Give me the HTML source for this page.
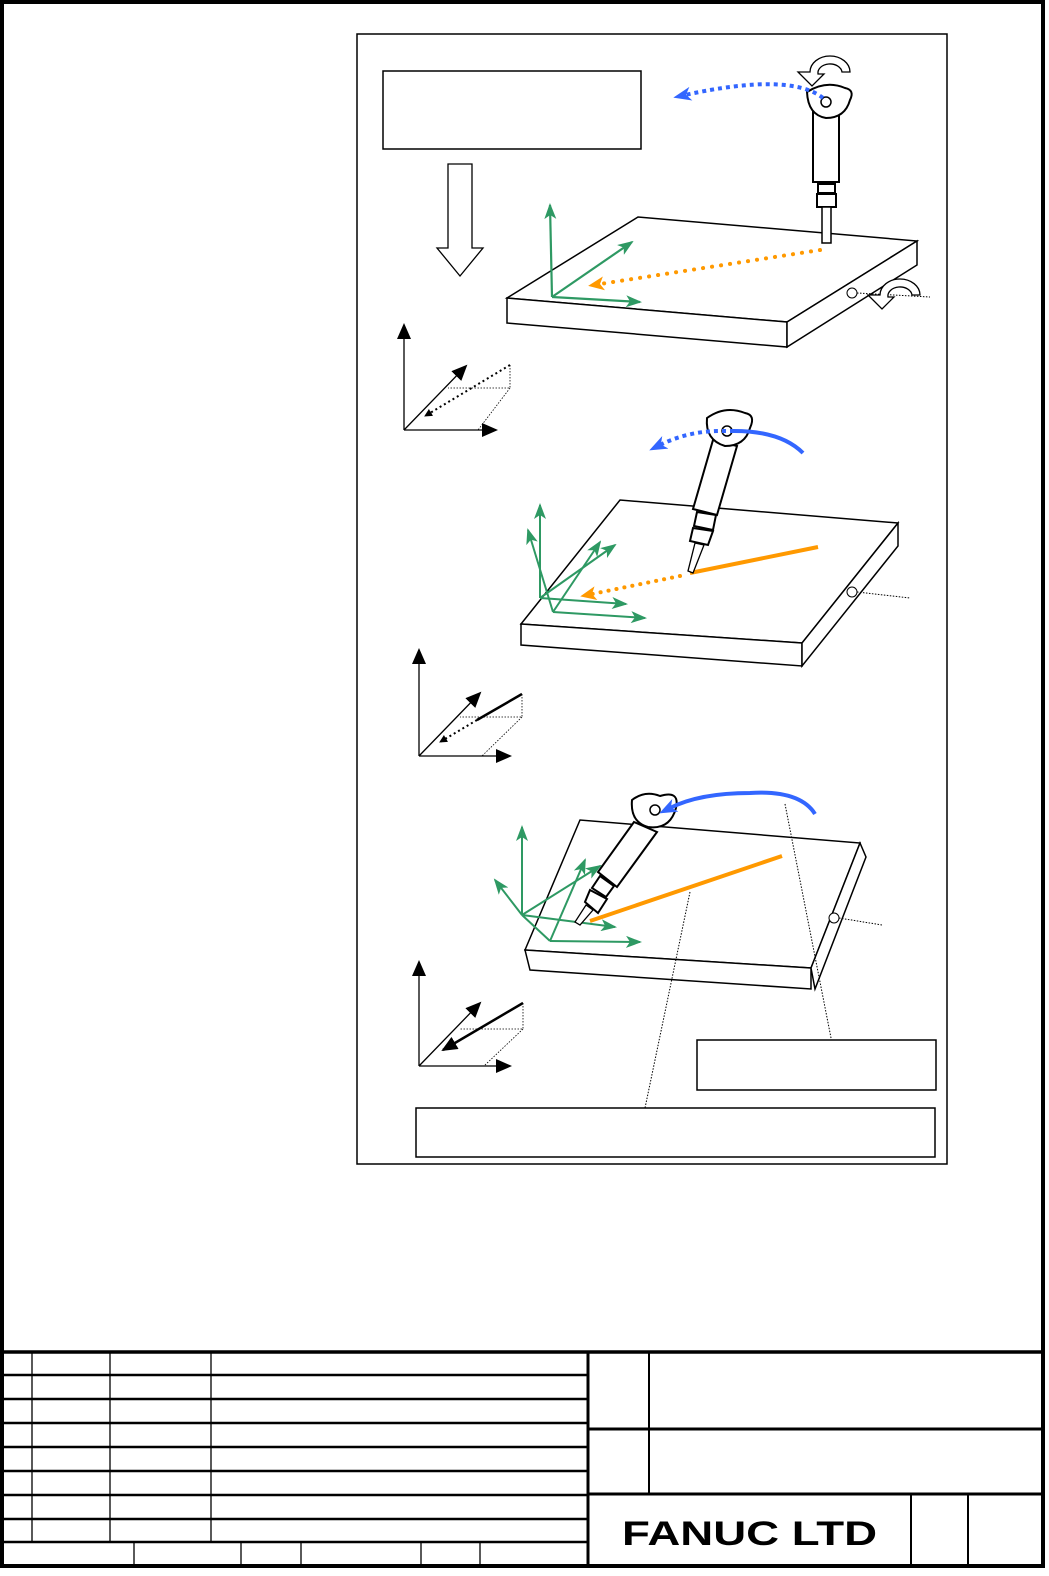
<!DOCTYPE html>
<html><head><meta charset="utf-8"><style>
html,body{margin:0;padding:0;background:#fff}
svg{display:block}
text{font-family:"Liberation Sans",Arial,sans-serif}
</style></head><body>
<svg width="1049" height="1576" viewBox="0 0 1049 1576" xmlns="http://www.w3.org/2000/svg">
<defs>
<marker id="ab" markerWidth="8" markerHeight="8" refX="7" refY="4" orient="auto" markerUnits="userSpaceOnUse"><path d="M0,0 L8,4 L0,8 z" fill="#000"/></marker>
<marker id="abL" markerWidth="16" markerHeight="14" refX="14" refY="7" orient="auto" markerUnits="userSpaceOnUse"><path d="M0,0 L16,7 L0,14 z" fill="#000"/></marker>
<marker id="ag" markerWidth="16" markerHeight="12" refX="14" refY="6" orient="auto" markerUnits="userSpaceOnUse"><path d="M0,0 L16,6 L0,12 L4,6 z" fill="#2e9963"/></marker>
<marker id="ao" markerWidth="16" markerHeight="14" refX="4" refY="7" orient="auto" markerUnits="userSpaceOnUse"><path d="M0,0 L16,7 L0,14 L4,7 z" fill="#ff9900"/></marker>
<marker id="abl" markerWidth="18" markerHeight="14" refX="6" refY="7" orient="auto" markerUnits="userSpaceOnUse"><path d="M0,0 L18,7 L0,14 L5,7 z" fill="#3366ff"/></marker>
</defs>
<!-- outer frame -->
<rect x="2" y="2" width="1041" height="1564" fill="none" stroke="#000" stroke-width="4"/>
<!-- diagram frame -->
<rect x="357" y="34" width="590" height="1130" fill="none" stroke="#000" stroke-width="1.5"/>
<rect x="383" y="71" width="258" height="78" fill="none" stroke="#000" stroke-width="1.5"/>
<path d="M448,164 L472,164 L472,248 L483,248 L460,276 L437,248 L448,248 Z" fill="#fff" stroke="#000" stroke-width="1.3"/>

<!-- TOP SCENE -->
<g stroke="#000" stroke-width="1.5" fill="#fff">
<path d="M507,298 L638,217 L917,241 L787,322 Z"/>
<path d="M507,298 L787,322 L787,347 L507,323 Z"/>
<path d="M787,322 L917,241 L917,265 L787,347 Z"/>
</g>
<circle cx="852" cy="293" r="5" fill="#fff" stroke="#000"/>
<path d="M857,293 L930,297" stroke="#000" stroke-dasharray="1.5,1.5" fill="none"/>
<path d="M880,295 a20,16 0 1 1 40,0 l-8,0 a12,9 0 1 0 -24,2 l6,0 -12,12 -14,-14 z" fill="#fff" stroke="#000" stroke-width="1.3"/>
<g stroke="#2e9963" stroke-width="2.2" fill="none">
<path d="M552,297 L550,205" marker-end="url(#ag)"/>
<path d="M552,297 L632,242" marker-end="url(#ag)"/>
<path d="M552,297 L640,302" marker-end="url(#ag)"/>
</g>
<path d="M820,250 L600,284" stroke="#ff9900" stroke-width="4" stroke-dasharray="0.1,9" stroke-linecap="round" fill="none" marker-end="url(#ao)"/>
<!-- tool top -->
<g stroke="#000" stroke-width="2" fill="#fff">
<rect x="813" y="112" width="26" height="70"/>
<rect x="818" y="184" width="17" height="9"/>
<rect x="817" y="194" width="19" height="13"/>
<rect x="822" y="207" width="9" height="36" stroke-width="1.5"/>
<path d="M807,92 Q826,80 845,88 Q855,90 850,100 Q845,118 826,118 Q808,115 807,92 Z"/>
</g>
<circle cx="826" cy="102" r="5" fill="#fff" stroke="#000" stroke-width="1.5"/>
<path d="M810,72 a20,16 0 1 1 40,0 l-8,0 a12,9 0 1 0 -24,2 l6,0 -12,12 -14,-14 z" fill="#fff" stroke="#000" stroke-width="1.3"/>
<path d="M823,98 Q790,72 685,95" stroke="#3366ff" stroke-width="4" stroke-dasharray="4,4" fill="none" marker-end="url(#abl)"/>
<!-- small axes 1 -->
<g stroke="#000" stroke-width="1.3" fill="none">
<path d="M404,430 L404,325" marker-end="url(#abL)"/>
<path d="M404,430 L496,430" marker-end="url(#abL)"/>
<path d="M404,430 L466,366" marker-end="url(#abL)"/>
<path d="M510,365 L425,416" stroke-width="2" stroke-dasharray="2,3" marker-end="url(#ab)"/>
<path d="M510,365 L510,388 L448,388 M510,388 L478,430" stroke-width="0.8" stroke-dasharray="1.5,1.5"/>
</g>

<!-- MIDDLE SCENE -->
<g stroke="#000" stroke-width="1.5" fill="#fff">
<path d="M521,624 L620,500 L898,523 L802,643 Z"/>
<path d="M521,624 L802,643 L802,666 L521,645 Z"/>
<path d="M802,643 L898,523 L898,546 L802,666 Z"/>
</g>
<circle cx="852" cy="592" r="5" fill="#fff" stroke="#000"/>
<path d="M857,592 L910,598" stroke="#000" stroke-dasharray="1.5,1.5" fill="none"/>
<g stroke="#2e9963" stroke-width="2" fill="none">
<path d="M540,598 L540,505" marker-end="url(#ag)"/>
<path d="M540,598 L626,604" marker-end="url(#ag)"/>
<path d="M540,598 L615,545" marker-end="url(#ag)"/>
<path d="M553,612 L528,530" marker-end="url(#ag)"/>
<path d="M553,612 L645,618" marker-end="url(#ag)"/>
<path d="M553,612 L600,542" marker-end="url(#ag)"/>
</g>
<path d="M818,547 L690,573" stroke="#ff9900" stroke-width="4" fill="none"/>
<path d="M680,576 L592,594" stroke="#ff9900" stroke-width="4" stroke-dasharray="0.1,8" stroke-linecap="round" fill="none" marker-end="url(#ao)"/>
<g stroke="#000" stroke-width="2" fill="#fff">
<path d="M713,440 L737,446 L717,515 L693,509 Z"/>
<path d="M697,512 L716,515 L713,530 L694,526 Z"/>
<path d="M693,528 L713,531 L708,545 L690,541 Z"/>
<path d="M695,543 L704,545 L693,573 L688,571 Z" stroke-width="1.3"/>
<path d="M707,418 Q725,405 745,413 Q756,415 750,428 Q745,446 725,446 Q705,440 707,418 Z"/>
</g>
<circle cx="727" cy="431" r="5" fill="#fff" stroke="#000" stroke-width="1.5"/>
<path d="M730,431 Q780,430 803,453" stroke="#3366ff" stroke-width="4" fill="none"/>
<path d="M726,431 Q690,430 660,445" stroke="#3366ff" stroke-width="4" stroke-dasharray="4,4" fill="none" marker-end="url(#abl)"/>
<!-- small axes 2 -->
<g stroke="#000" stroke-width="1.3" fill="none">
<path d="M419,756 L419,650" marker-end="url(#abL)"/>
<path d="M419,756 L510,756" marker-end="url(#abL)"/>
<path d="M419,756 L480,693" marker-end="url(#abL)"/>
<path d="M522,694 L477,720" stroke-width="2.5"/>
<path d="M477,720 L440,742" stroke-width="2" stroke-dasharray="2,3" marker-end="url(#ab)"/>
<path d="M522,694 L522,717 L460,717 M522,717 L482,756" stroke-width="0.8" stroke-dasharray="1.5,1.5"/>
</g>

<!-- BOTTOM SCENE -->
<g stroke="#000" stroke-width="1.5" fill="#fff">
<path d="M525,950 L580,820 L860,843 L811,968 Z"/>
<path d="M525,950 L811,968 L811,989 L530,970 Z"/>
<path d="M811,968 L860,843 L866,857 L815,989 Z"/>
</g>
<circle cx="834" cy="918" r="5" fill="#fff" stroke="#000"/>
<path d="M839,918 L882,925" stroke="#000" stroke-dasharray="1.5,1.5" fill="none"/>
<path d="M785,804 L832,1043 M690,892 L645,1108" stroke="#000" stroke-width="1" stroke-dasharray="1.5,1.5" fill="none"/>
<path d="M782,856 L590,921" stroke="#ff9900" stroke-width="4" fill="none"/>
<g stroke="#2e9963" stroke-width="2" fill="none">
<path d="M522,915 L522,827" marker-end="url(#ag)"/>
<path d="M522,915 L495,880" marker-end="url(#ag)"/>
<path d="M522,915 L615,927" marker-end="url(#ag)"/>
<path d="M522,915 L600,866" marker-end="url(#ag)"/>
<path d="M550,941 L640,942" marker-end="url(#ag)"/>
<path d="M550,941 L585,860" marker-end="url(#ag)"/>
<path d="M522,915 L550,941"/>
</g>
<g stroke="#000" stroke-width="2" fill="#fff">
<path d="M634,822 L657,832 L617,887 L598,872 Z"/>
<path d="M600,876 L614,886 L606,897 L592,888 Z"/>
<path d="M590,890 L607,899 L598,913 L585,902 Z"/>
<path d="M586,905 L593,910 L580,925 L575,922 Z" stroke-width="1.3"/>
<path d="M632,800 Q645,790 660,796 Q680,790 676,808 Q670,830 648,827 Q630,822 632,800 Z"/>
</g>
<circle cx="655" cy="810" r="5" fill="#fff" stroke="#000" stroke-width="1.5"/>
<path d="M815,814 Q800,790 750,793 Q700,793 670,808" stroke="#3366ff" stroke-width="4" fill="none" marker-end="url(#abl)"/>
<!-- small axes 3 -->
<g stroke="#000" stroke-width="1.3" fill="none">
<path d="M419,1066 L419,962" marker-end="url(#abL)"/>
<path d="M419,1066 L510,1066" marker-end="url(#abL)"/>
<path d="M419,1066 L480,1003" marker-end="url(#abL)"/>
<path d="M523,1003 L443,1050" stroke-width="2.5" marker-end="url(#abL)"/>
<path d="M523,1003 L523,1029 L460,1029 M523,1029 L484,1066" stroke-width="0.8" stroke-dasharray="1.5,1.5"/>
</g>
<rect x="697" y="1040" width="239" height="50" fill="#fff" stroke="#000" stroke-width="1.5"/>
<rect x="416" y="1108" width="519" height="49" fill="none" stroke="#000" stroke-width="1.5"/>

<!-- TITLE BLOCK -->
<g stroke="#000" fill="none">
<line x1="2" y1="1352" x2="1045" y2="1352" stroke-width="3.5"/>
<g stroke-width="2.5">
<line x1="2" y1="1375" x2="587" y2="1375"/>
<line x1="2" y1="1399" x2="587" y2="1399"/>
<line x1="2" y1="1423" x2="587" y2="1423"/>
<line x1="2" y1="1447" x2="587" y2="1447"/>
<line x1="2" y1="1471" x2="587" y2="1471"/>
<line x1="2" y1="1495" x2="587" y2="1495"/>
<line x1="2" y1="1519" x2="587" y2="1519"/>
<line x1="2" y1="1542" x2="587" y2="1542"/>
</g>
<g stroke-width="1.3">
<line x1="32" y1="1352" x2="32" y2="1542"/>
<line x1="110" y1="1352" x2="110" y2="1542"/>
<line x1="211" y1="1352" x2="211" y2="1542"/>
<line x1="134" y1="1542" x2="134" y2="1566"/>
<line x1="241" y1="1542" x2="241" y2="1566"/>
<line x1="301" y1="1542" x2="301" y2="1566"/>
<line x1="421" y1="1542" x2="421" y2="1566"/>
<line x1="480" y1="1542" x2="480" y2="1566"/>
</g>
<line x1="588" y1="1352" x2="588" y2="1566" stroke-width="3"/>
<line x1="649" y1="1352" x2="649" y2="1494" stroke-width="2"/>
<line x1="588" y1="1429" x2="1045" y2="1429" stroke-width="3"/>
<line x1="588" y1="1494" x2="1045" y2="1494" stroke-width="3"/>
<line x1="911" y1="1494" x2="911" y2="1566" stroke-width="2"/>
<line x1="968" y1="1494" x2="968" y2="1566" stroke-width="2"/>
</g>
<text x="622" y="1545" font-size="34" font-weight="bold" fill="#000" textLength="255" lengthAdjust="spacingAndGlyphs">FANUC  LTD</text>
</svg>
</body></html>
